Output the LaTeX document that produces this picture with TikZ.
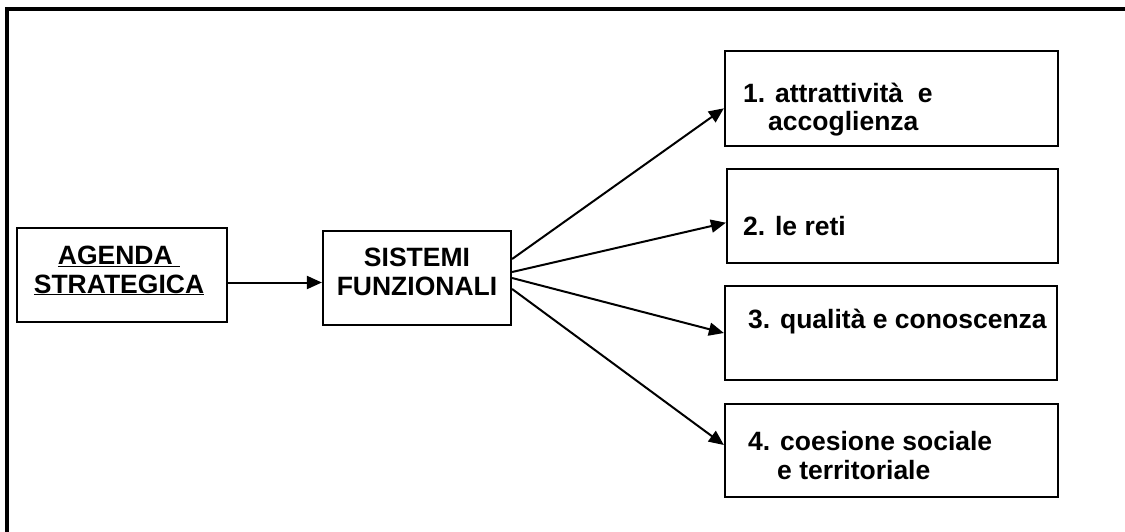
\documentclass[tikz,border=0pt]{standalone}
\usepackage{fontspec}
\setmainfont{Liberation Sans}
\usetikzlibrary{arrows.meta}

\tikzset{
  box/.style={draw, line width=2.2pt, inner sep=0pt},
  lbl/.style={inner sep=0pt, font=\fontsize{26.5}{28.5}\selectfont\bfseries},
  freccia/.style={-{Triangle[length=15pt,width=13pt]}, line width=2pt}
}

\begin{document}
\begin{tikzpicture}[x=1pt,y=-1pt]
		\useasboundingbox (0,0) rectangle (1125,531);
		\draw[line width=3.5pt] (7,560) |- (1150,9);
		% riquadri
		\node[box, minimum width=210pt, minimum height=94pt] (ag) at (122,275) {};
		\node[box, minimum width=188pt, minimum height=94pt] (sf) at (417,278) {};
		\node[box, minimum width=333pt, minimum height=95pt] (s1) at (891.5,98.5) {};
		\node[box, minimum width=331pt, minimum height=94pt] (s2) at (892.5,216) {};
		\node[box, minimum width=332pt, minimum height=94pt] (s3) at (891,333) {};
		\node[box, minimum width=333pt, minimum height=93pt] (s4) at (891.5,450.5) {};
		% testi
		\node[lbl, align=center, anchor=base] (tag) at (119,293) {\underline{AGENDA\ }\\\underline{STRATEGICA}};
		\node[lbl, align=center, anchor=base] (tsf) at (417,295) {SISTEMI\\FUNZIONALI};
		\node[lbl, align=left, anchor=base west] (t1) at (743,130.7) {1. attrattività\ \ e\\\hspace*{25pt}accoglienza};
		\node[lbl, anchor=base west] (t2) at (743,235) {2. le reti};
		\node[lbl, anchor=base west] (t3) at (748,328) {3. qualità e conoscenza};
		\node[lbl, align=left, anchor=base west] (t4) at (748,479) {4. coesione sociale\\\hspace*{29pt}e territoriale};
		% frecce
		\draw[freccia] ([yshift=-7.5pt]ag.east) -- ([yshift=-4.5pt]sf.west);
		\draw[freccia] ([yshift=19pt]sf.east) -- ([yshift=-9.8pt]s1.west);
		\draw[freccia] ([yshift=6pt]sf.east) -- ([yshift=-6.7pt]s2.west);
		\draw[freccia] (sf.east) -- (s3.west);
		\draw[freccia] ([yshift=-11pt]sf.east) -- ([yshift=5.5pt]s4.west);
\end{tikzpicture}
\end{document}
